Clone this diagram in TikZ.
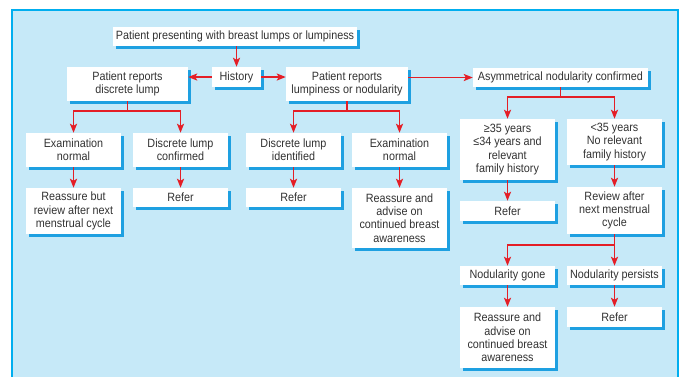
\documentclass[tikz,border=0pt]{standalone}
\usepackage{fontspec}
\setmainfont{Liberation Sans}[FakeStretch=0.9]
\usetikzlibrary{arrows.meta,shadows}
\definecolor{panel}{RGB}{198,233,248}
\definecolor{panelborder}{RGB}{0,174,239}
\definecolor{shadowc}{RGB}{30,160,225}
\definecolor{arrowred}{RGB}{228,30,38}
\definecolor{txt}{RGB}{50,50,50}
\begin{document}
\begin{tikzpicture}[x=1pt,y=-1pt,
  box/.style={fill=white, text=txt, align=center, inner sep=0pt,
    font=\fontsize{12}{13.3}\selectfont,
    drop shadow={shadow xshift=2.5pt,shadow yshift=-2.5pt,fill=shadowc,opacity=1}},
  bx/.style 2 args={box, minimum width=#1pt, minimum height=#2pt},
  arr/.style={draw=arrowred, line width=1.8pt, -{Stealth[length=9pt,width=7pt,inset=2pt]}}]
\useasboundingbox (0,0) rectangle (680,376);
\draw[fill=panel, draw=panelborder, line width=1.2pt] (12,10) rectangle (678,390);

\node[bx={244}{19}] (top) at (235,36.5) {Patient presenting with breast lumps or lumpiness};
\node[bx={49}{20}] (hist) at (236.5,77) {History};
\node[bx={121}{34}] (dl) at (127.5,84) {Patient reports\\discrete lump};
\node[bx={122}{34}] (lump) at (347,84) {Patient reports\\lumpiness or nodularity};
\node[bx={175}{19}] (asym) at (560.5,77.5) {Asymmetrical nodularity confirmed};

\node[bx={95}{34}] (exam1) at (73.5,150) {Examination\\normal};
\node[bx={95}{34}] (dconf) at (180.5,150) {Discrete lump\\confirmed};
\node[bx={95}{34}] (dident) at (293.5,150) {Discrete lump\\identified};
\node[bx={95}{34}] (exam2) at (399.5,150) {Examination\\normal};
\node[bx={95}{61}] (ge) at (507.5,149.5) {≥35 years\\≤34 years and\\relevant\\family history};
\node[bx={95}{46}] (lt) at (614.5,142) {<35 years\\No relevant\\family history};

\node[bx={95}{46}] (reas1) at (73.5,211) {Reassure but\\review after next\\menstrual cycle};
\node[bx={95}{19}] (ref1) at (180.5,197.5) {Refer};
\node[bx={95}{19}] (ref2) at (293.5,197.5) {Refer};
\node[bx={95}{60}] (reas2) at (399.5,218) {Reassure and\\advise on\\continued breast\\awareness};
\node[bx={95}{20}] (ref3) at (507.5,211) {Refer};
\node[bx={95}{47}] (rev) at (614.5,210.5) {Review after\\next menstrual\\cycle};

\node[bx={95}{19}] (gone) at (507.5,275.5) {Nodularity gone};
\node[bx={95}{19}] (pers) at (614.5,275.5) {Nodularity persists};
\node[bx={95}{61}] (reas3) at (507.5,337.5) {Reassure and\\advise on\\continued breast\\awareness};
\node[bx={95}{20}] (ref4) at (614.5,317) {Refer};

\draw[arr] (hist.north |- top.south) -- (hist.north);
\draw[arr] (hist.west) -- (hist.west -| dl.east);
\draw[arr] (hist.east) -- (hist.east -| lump.west);
\draw[arr] (lump.east |- asym.west) -- (asym.west);

\draw[arr] (dl.south) -- ++(0,10) -| (exam1.north);
\draw[arr] (dl.south) -- ++(0,10) -| (dconf.north);
\draw[arr] (lump.south) -- ++(0,10) -| (dident.north);
\draw[arr] (lump.south) -- ++(0,10) -| (exam2.north);
\draw[arr] (asym.south) -- ++(0,10) -| (ge.north);
\draw[arr] (asym.south) -- ++(0,10) -| (lt.north);

\draw[arr] (exam1.south) -- (reas1.north);
\draw[arr] (dconf.south) -- (ref1.north);
\draw[arr] (dident.south) -- (ref2.north);
\draw[arr] (exam2.south) -- (reas2.north);
\draw[arr] (ge.south) -- (ref3.north);
\draw[arr] (lt.south) -- (rev.north);

\draw[arr] (rev.south) -- ++(0,11) -| (gone.north);
\draw[arr] (rev.south) -- ++(0,11) -| (pers.north);
\draw[arr] (gone.south) -- (reas3.north);
\draw[arr] (pers.south) -- (ref4.north);
\end{tikzpicture}
\end{document}
